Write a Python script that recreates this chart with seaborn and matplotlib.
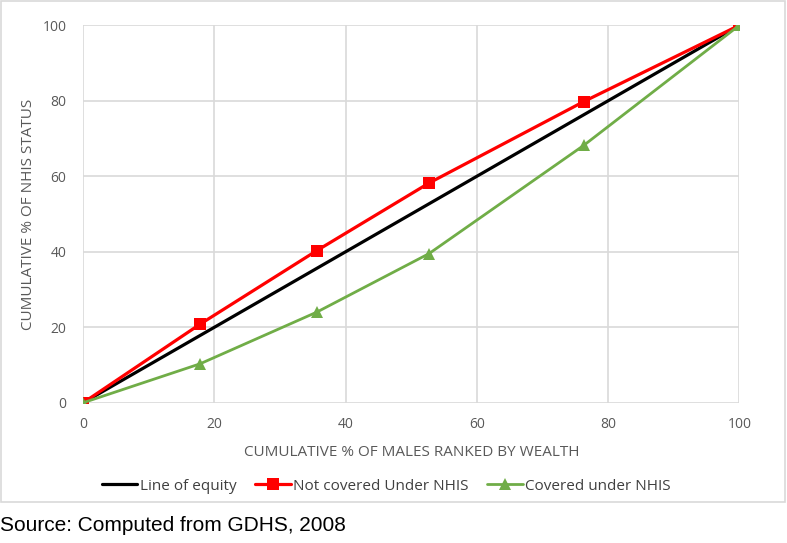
import seaborn as sns
import matplotlib.pyplot as plt
from matplotlib.patches import Rectangle
import pandas as pd

wealth_pct = [0, 17.8, 35.6, 52.7, 76.3, 100]
not_covered = [0, 20.8, 40.3, 58.2, 79.8, 100]
covered = [0, 10.3, 24.0, 39.5, 68.2, 100]
equity_x = [0, 100]
equity_y = [0, 100]


def draw_curve():
    sns.set_style("white")
    plt.rcParams["font.family"] = ["Open Sans", "DejaVu Sans"]

    fig = plt.figure(figsize=(7.87, 5.43), dpi=100)
    ax = fig.add_axes([0.1058, 0.2584, 0.8336, 0.695])

    eq = pd.DataFrame({"x": equity_x, "y": equity_y})
    nc = pd.DataFrame({"x": wealth_pct, "y": not_covered})
    cv = pd.DataFrame({"x": wealth_pct, "y": covered})

    sns.lineplot(data=eq, x="x", y="y", color="black", linewidth=2.3,
                 label="Line of equity", ax=ax)
    sns.lineplot(data=nc, x="x", y="y", color="#FF0000", linewidth=2.3,
                 marker="s", markersize=8, markeredgewidth=0,
                 label="Not covered Under NHIS", ax=ax)
    sns.lineplot(data=cv, x="x", y="y", color="#70AD47", linewidth=2.0,
                 marker="^", markersize=8, markeredgewidth=0,
                 label="Covered under NHIS", ax=ax)

    ax.set_xlim(0, 100)
    ax.set_ylim(0, 100)
    ax.set_xticks(range(0, 101, 20))
    ax.set_yticks(range(0, 101, 20))
    ax.grid(True, color="#d9d9d9", linewidth=1.2)
    ax.set_axisbelow(True)
    for s in ax.spines.values():
        s.set_visible(False)
    ax.tick_params(axis="both", length=0, labelsize=10, labelcolor="#595959")
    ax.tick_params(axis="x", pad=10)
    ax.tick_params(axis="y", pad=12)

    ax.set_xlabel("CUMULATIVE % OF MALES RANKED BY WEALTH", fontsize=11,
                  color="#595959", labelpad=10)
    ax.set_ylabel("CUMULATIVE % OF NHIS STATUS", fontsize=11,
                  color="#595959", labelpad=5)

    ax.legend(loc="upper center", bbox_to_anchor=(0.462, -0.165), ncol=3,
              frameon=False, fontsize=11, handlelength=2.3, handletextpad=0.15,
              columnspacing=1.25, labelcolor="#404040")

    fig.patches.append(Rectangle((0.0015, 0.0755), 0.996, 0.922,
                                 transform=fig.transFigure, fill=False,
                                 edgecolor="#d9d9d9", linewidth=1.2))

    fig.text(0.0, 0.022, "Source: Computed from GDHS, 2008", fontsize=15,
             family=["Liberation Sans", "DejaVu Sans"], color="black")

    fig.savefig("out.png", dpi=100)


if __name__ == "__main__":
    draw_curve()
